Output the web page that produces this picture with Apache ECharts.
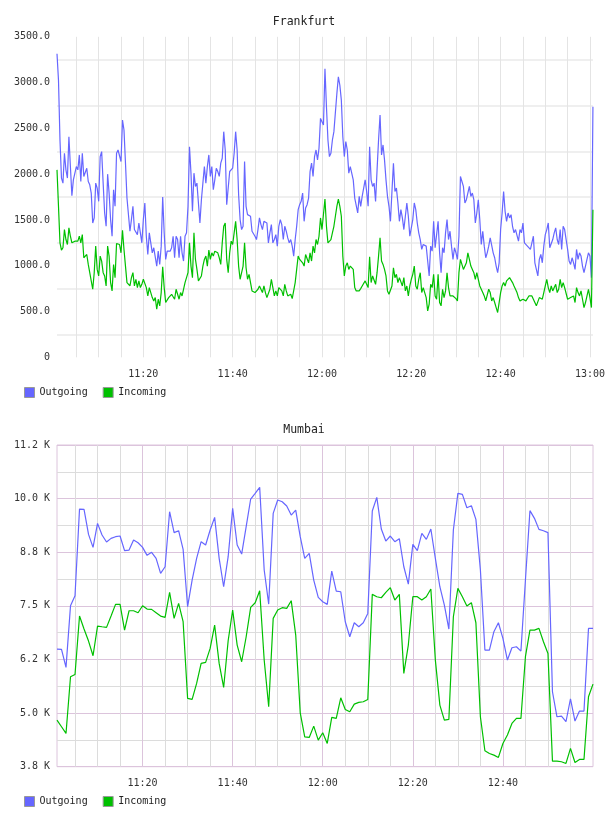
<!DOCTYPE html>
<html><head><meta charset="utf-8">
<script src="https://cdn.jsdelivr.net/npm/echarts@6/dist/echarts.min.js"></script>
<style>html,body{margin:0;padding:0;background:#fff}#c{width:608px;height:816px}</style>
</head><body><div id="c"></div>
<script>
const FONT = 'DejaVu Sans Mono';
const OUT_COLOR = '#6666ff';
const IN_COLOR = '#00c000';

// Frankfurt: samples every 20 s starting 11:00:40
const fraStart = [11, 0, 40];
const fraStepSec = 20;
const fraOutgoing = [
3315,3025,2373,1957,1902,2228,2047,1957,2409,2083,
1765,1938,1957,2083,2047,2210,1920,2228,1975,1975,
2065,1920,1884,1793,1467,1522,1902,1848,1703,2192,
2246,1902,1576,1431,2000,1793,1504,1322,1830,1649,
2228,2264,2283,2138,2591,2482,2120,1739,1721,1377,
1504,1649,1395,1377,1340,1467,1359,1250,1504,1685,
1322,1123,1359,1359,1141,1196,1178,996,1159,1014,
1214,1750,1359,1069,1159,1159,1159,1196,1322,1087,
1322,1286,1087,1322,1141,1051,1322,1359,1649,2300,
2011,1594,2011,1866,1902,1685,1467,1721,1902,2083,
1902,2083,2210,1975,2083,1830,1938,2065,2029,1975,
2120,2174,2464,2264,1667,1649,2029,2047,2065,2228,
2464,2264,1775,1504,1395,1431,2138,1649,1558,1576,
1540,1377,1359,1322,1286,1395,1522,1449,1395,1485,
1504,1467,1250,1359,1449,1250,1286,1340,1214,1431,
1504,1449,1286,1431,1377,1304,1250,1286,1214,1105,
1286,1431,1612,1667,1703,1793,1485,1631,1667,1739,
2029,2120,1975,2192,2264,2156,2283,2609,2573,2536,
3152,2736,2373,2192,2228,
2373,2464,2482,2880,3062,2971,2808,
2409,2192,2355,2264,2011,2083,2083,1938,1739,
1721,1576,1757,1649,1757,1775,1938,1811,
1649,2300,1938,1866,1902,1703,2047,2373,2645,
2210,2319,2156,1938,1757,1649,1485,1811,2120,
1811,1848,1685,1485,1612,1522,1395,1540,1685,1540,1322,1304,1504,1685,1612,1467,
1359,1286,1178,1232,1250,1214,1051,888,
1214,1159,1485,1196,1178,1485,1141,924,
1196,1141,1359,1504,1286,1377,1214,1069,1196,
1141,1069,1322,1975,1920,1866,1685,
1721,1703,1866,1757,1793,1721,1467,
1576,1721,1504,1232,1377,1214,1087,1141,
1214,1304,1322,1141,1087,996,924,1032,
1395,1576,1811,1594,1485,1576,1522,1558,
1431,1359,1395,1377,1268,1395,1359,1467,
1250,1250,1214,1196,1178,1250,1322,
1032,960,888,1069,1123,1032,1214,1340,1395,1467,1196,1196,1286,1359,1413,1286,1232,1395,
1178,1431,1395,1286,1178,1051,1014,1087,
1032,960,1178,1069,1141,1105,996,924,996,
1069,1141,1105,870,2736
];
const fraIncoming = [
2047,1649,1250,1170,1196,1395,1286,1232,1413,1322,
1250,1268,1268,1261,1268,1322,1250,1340,1087,1069,
1123,1014,924,906,743,924,1214,960,888,1105,
1051,924,888,779,1214,1105,816,725,1014,870,
1243,1250,1232,1141,1388,1178,996,816,834,779,
870,924,779,852,761,834,761,797,852,852,
761,670,761,743,652,616,652,525,634,562,
707,989,761,598,616,652,670,688,707,634,
743,761,634,707,670,743,816,797,924,1250,
996,870,1359,1069,960,834,852,888,996,1069,
1105,996,1170,1069,1141,1105,1159,1178,1141,1087,
1014,1250,1431,1467,1069,924,1141,1268,1232,1359,
1485,1286,996,852,870,996,1250,978,852,906,
816,725,725,707,707,743,779,779,707,779,
707,652,634,743,852,761,670,725,670,761,
779,725,670,797,725,670,652,688,641,652,
816,960,1105,1069,1051,1032,996,1123,1141,1032,
1141,1051,1214,1141,1286,1232,1322,1522,1395,1377,
1728,1431,1250,1232,1286,
1359,1431,1540,1649,1728,1649,1540,
1105,888,996,1032,960,996,1014,960,761,
725,743,725,750,779,797,834,852,
761,1098,816,888,870,797,924,1105,1304,
1051,1014,960,888,725,688,670,779,978,
870,906,816,870,852,779,870,725,779,670,779,852,906,996,779,743,
852,924,707,761,707,652,507,580,
797,761,906,670,634,906,598,562,
743,652,725,924,761,670,688,670,677,
641,616,924,1069,1051,960,978,
1032,1141,1069,996,996,924,852,
924,852,779,761,707,670,616,634,
743,707,616,652,598,543,489,598,
707,779,816,779,834,816,870,852,
816,779,761,707,652,616,598,634,
616,616,634,670,688,670,688,
598,562,580,652,670,634,707,779,852,761,707,779,725,761,797,707,743,852,
761,816,761,743,634,634,652,670,
670,598,761,707,670,725,634,543,598,
598,743,652,543,1612
];

// Mumbai: samples every minute starting 11:01
const mumStart = [11, 1, 0];
const mumStepSec = 60;
const mumOutgoing = [
6492,6485,6065,7503,7736,9757,9750,9166,8863,9423,
9151,8988,9073,9112,9128,8786,8801,9034,8972,8863,
8677,8747,8607,8257,8412,9695,9206,9252,8817,7480,
8101,8607,8996,8918,9268,9563,8607,7946,8646,9773,
8918,8708,9345,9991,10123,10263,8335,7542,9656,9967,
9928,9827,9617,9734,9112,8607,8724,8101,7697,7596,
7534,
8311,7845,7829,7130,6780,7106,7013,7106,7324,9711,
10030,9291,9011,9128,8996,9066,8412,8008,8934,8786,
9190,9050,9291,8607,7946,7519,6959,9268,10123,10100,
9788,9835,9516,8335,6469,6469,6897,7106,6741,6236,
6523,6547,6446,8101,9719,9540,9283,9252,9206,5497,
4914,4930,4798,5334,4814,5047,5047,6974,6974
];
const mumIncoming = [
4836,4681,4525,5847,5901,7262,6959,6679,6337,7029,
7013,6998,7262,7534,7534,6935,7386,7386,7340,7503,
7425,7418,7340,7262,7231,7814,7208,7557,7130,5342,
5318,5692,6158,6181,6508,7052,6158,5598,6687,7402,
6586,6197,6780,7464,7573,7853,6236,5148,7208,7402,
7457,7441,7620,6819,5007,4447,4432,4696,4370,4541,
4292,
4899,4875,5357,5085,5031,5210,5249,5264,5318,7767,
7713,7689,7814,7923,7635,7767,5925,6586,7713,7713,
7635,7713,7892,6236,5186,4836,4852,7246,7907,7713,
7495,7573,7106,4914,4121,4059,4020,3966,4292,4487,
4759,4875,4875,6314,6935,6935,6974,6663,6391,3880,
3880,3865,3826,4176,3849,3919,3919,5381,5676
];

// tick labels
const fraYLabels = ['0','500.0','1000.0','1500.0','2000.0','2500.0','3000.0','3500.0'];
const mumYLabels = ['3.8 K','5.0 K','6.2 K','7.5 K','8.8 K','10.0 K','11.2 K'];
const fraXLabels = ['11:20','11:40','12:00','12:20','12:40','13:00'];
const mumXLabels = ['11:20','11:40','12:00','12:20','12:40'];

function ts(h, m, s) { return new Date(2024, 0, 1, h, m, s).getTime(); }
function pairs(start, stepSec, vals) {
  const t0 = ts(start[0], start[1], start[2]);
  return vals.map((v, i) => [t0 + i * stepSec * 1000, v]);
}
const fraOutData = pairs(fraStart, fraStepSec, fraOutgoing);
const fraInData = pairs(fraStart, fraStepSec, fraIncoming);
const mumOutData = pairs(mumStart, mumStepSec, mumOutgoing);
const mumInData = pairs(mumStart, mumStepSec, mumIncoming);

function pad(n) { return (n < 10 ? '0' : '') + n; }
function timeLabel(list) {
  return function (value) {
    const d = new Date(value);
    const s = pad(d.getHours()) + ':' + pad(d.getMinutes());
    if (d.getSeconds() !== 0) return '';
    return list.indexOf(s) >= 0 ? s : '';
  };
}

const labelStyle = { fontFamily: FONT, fontSize: 10, color: '#333' };
const FIVE = 5.5 * 60000;

const fraMin = fraOutData[0][0], fraMax = fraOutData[fraOutData.length - 1][0];
const mumMin = mumOutData[0][0], mumMax = mumOutData[mumOutData.length - 1][0];

const chart = echarts.init(document.getElementById('c'), null, { renderer: 'canvas' });
chart.setOption({
  animation: false,
  backgroundColor: '#fff',
  title: [
    { text: 'Frankfurt', left: 'center', top: 11, textStyle: { fontFamily: FONT, fontSize: 11.5, fontWeight: 'normal', color: '#222' } },
    { text: 'Mumbai', left: 'center', top: 419, textStyle: { fontFamily: FONT, fontSize: 11.5, fontWeight: 'normal', color: '#222' } }
  ],
  legend: [
    { data: ['Outgoing', 'Incoming'], left: 24, top: 387, padding: 0, itemWidth: 10, itemHeight: 10, itemGap: 15, icon: 'rect',
      itemStyle: { borderColor: '#999', borderWidth: 1 }, textStyle: { fontFamily: FONT, fontSize: 10, color: '#222' } },
    { data: ['Outgoing', 'Incoming'], left: 24, top: 796, padding: 0, itemWidth: 10, itemHeight: 10, itemGap: 15, icon: 'rect',
      itemStyle: { borderColor: '#999', borderWidth: 1 }, textStyle: { fontFamily: FONT, fontSize: 10, color: '#222' } }
  ],
  grid: [
    { left: 57, right: 15, top: 36.8, height: 320.5, containLabel: false },
    { left: 57, right: 15, top: 445, height: 321.7, containLabel: false, show: true, borderColor: '#dcc4dc', borderWidth: 1, backgroundColor: 'transparent' }
  ],
  xAxis: [
    { type: 'time', gridIndex: 0, min: fraMin, max: fraMax, minInterval: FIVE, maxInterval: FIVE,
      axisLine: { show: false }, axisTick: { show: false },
      axisLabel: Object.assign({ margin: 12, formatter: timeLabel(fraXLabels), showMinLabel: true, showMaxLabel: true }, labelStyle),
      splitLine: { show: true, showMinLine: false, showMaxLine: false, lineStyle: { color: '#e4e4e4', width: 1 } } },
    { type: 'time', gridIndex: 1, min: mumMin, max: mumMax, minInterval: FIVE, maxInterval: FIVE,
      axisLine: { show: false }, axisTick: { show: false },
      axisLabel: Object.assign({ margin: 12, formatter: timeLabel(mumXLabels) }, labelStyle),
      splitLine: { show: true, showMinLine: false, showMaxLine: false, lineStyle: { color: '#dcdcdc', width: 1 } } },
    { type: 'time', gridIndex: 1, position: 'top', min: mumMin, max: mumMax, minInterval: 21 * 60000, maxInterval: 21 * 60000,
      axisLine: { show: false }, axisTick: { show: false }, axisLabel: { show: false },
      splitLine: { show: true, showMinLine: false, showMaxLine: false, lineStyle: { color: '#dcc4dc', width: 1 } } }
  ],
  yAxis: [
    { type: 'value', gridIndex: 0, min: 0, max: 3500, interval: 250,
      axisLine: { show: false }, axisTick: { show: false },
      axisLabel: Object.assign({ margin: 7, padding: [4, 0, 0, 0], formatter: v => (v % 500 === 0 ? fraYLabels[v / 500] : '') }, labelStyle),
      splitLine: { show: true, lineStyle: { color: ['rgba(0,0,0,0)', '#efefef'], width: 2 } } },
    { type: 'value', gridIndex: 1, min: 3750, max: 11250, interval: 625,
      axisLine: { show: false }, axisTick: { show: false },
      axisLabel: Object.assign({ margin: 7, padding: [3, 0, 0, 0], formatter: v => ((v - 3750) % 1250 === 0 ? mumYLabels[(v - 3750) / 1250] : '') }, labelStyle),
      splitLine: { show: true, lineStyle: { color: ['#dcc4dc', '#dcdcdc'], width: 1 } } }
  ],
  series: [
    { name: 'Outgoing', type: 'line', xAxisIndex: 0, yAxisIndex: 0, data: fraOutData, showSymbol: false, symbol: 'none',
      itemStyle: { color: OUT_COLOR }, lineStyle: { color: OUT_COLOR, width: 1.2 } },
    { name: 'Incoming', type: 'line', xAxisIndex: 0, yAxisIndex: 0, data: fraInData, showSymbol: false, symbol: 'none',
      itemStyle: { color: IN_COLOR }, lineStyle: { color: IN_COLOR, width: 1.2 } },
    { name: 'Outgoing', type: 'line', xAxisIndex: 1, yAxisIndex: 1, data: mumOutData, showSymbol: false, symbol: 'none',
      itemStyle: { color: OUT_COLOR }, lineStyle: { color: OUT_COLOR, width: 1.2 } },
    { name: 'Incoming', type: 'line', xAxisIndex: 1, yAxisIndex: 1, data: mumInData, showSymbol: false, symbol: 'none',
      itemStyle: { color: IN_COLOR }, lineStyle: { color: IN_COLOR, width: 1.2 } }
  ]
});
</script>
</body></html>
